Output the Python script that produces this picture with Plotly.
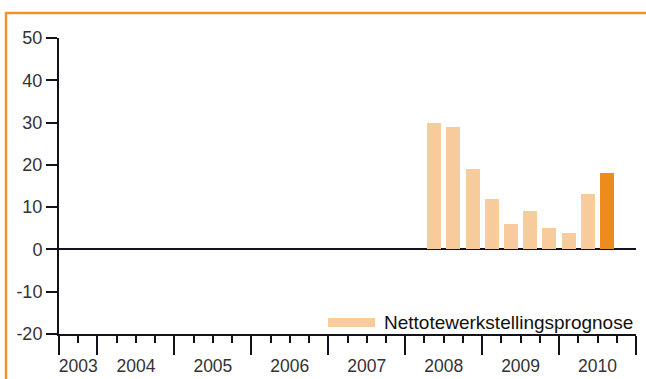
import plotly.graph_objects as go

# Quarterly net employment outlook (%), 2008 Q2 - 2010 Q3
quarters = ["2008 Q2", "2008 Q3", "2008 Q4", "2009 Q1", "2009 Q2",
            "2009 Q3", "2009 Q4", "2010 Q1", "2010 Q2", "2010 Q3"]
values = [30, 29, 19, 12, 6, 9, 5, 4, 13, 18]

# Axis spans 2003 Q3 through 2010 Q4
years = [2003, 2004, 2005, 2006, 2007, 2008, 2009, 2010]
first_year, first_q = 2003, 3
last_year, last_q = 2010, 4
y_ticks = [-20, -10, 0, 10, 20, 30, 40, 50]
y_tick_text = ["-20", "-10", "0", "10", "20", "30", "40", "50"]
series_name = "Nettotewerkstellingsprognose"

LIGHT = "#F8CB9C"
DARK = "#EE8B1F"
FRAME = "#F0922A"
INK = "#12121E"
LABEL = "#333333"
FONT = "Liberation Sans"


def q_index(year, q):
    return (year - first_year) * 4 + (q - first_q)


n_quarters = q_index(last_year, last_q) + 1

xs = []
for label in quarters:
    y_s, q_s = label.split(" Q")
    xs.append(q_index(int(y_s), int(q_s)) + 0.5)

colors = [LIGHT] * (len(values) - 1) + [DARK]

# Year boundaries (major ticks) and year label centres
bounds = [0] + [q_index(y, 1) for y in years[1:]] + [n_quarters]
centers = [(bounds[i] + bounds[i + 1]) / 2 for i in range(len(years))]

fig = go.Figure()
fig.add_trace(go.Bar(x=xs, y=values, marker=dict(color=colors, line=dict(width=0)),
                     width=0.73, showlegend=False, hoverinfo="skip"))
# invisible helper trace so the year-label axis is rendered
fig.add_trace(go.Scatter(x=[centers[0]], y=[0], xaxis="x2", mode="markers",
                         marker=dict(opacity=0), showlegend=False, hoverinfo="skip"))

fig.update_layout(
    width=646, height=379,
    margin=dict(l=59, r=10, t=38, b=45, autoexpand=False),
    paper_bgcolor="white", plot_bgcolor="white",
    font=dict(family=FONT, size=18, color=LABEL),
    bargap=0,
    xaxis=dict(
        range=[0, n_quarters], showgrid=False, zeroline=False, automargin=False,
        showline=True, linecolor=INK, linewidth=2,
        tickmode="array", tickvals=bounds, showticklabels=False,
        ticks="outside", ticklen=19, tickwidth=2, tickcolor=INK,
        minor=dict(tickmode="linear", tick0=0, dtick=1, ticks="outside",
                   ticklen=7, tickwidth=2, tickcolor=INK, showgrid=False),
    ),
    xaxis2=dict(
        overlaying="x", anchor="y", side="bottom", range=[0, n_quarters],
        showgrid=False, zeroline=False, showline=False, automargin=False,
        tickmode="array", tickvals=centers, ticktext=[str(y) for y in years],
        ticks="outside", ticklen=16, tickcolor="rgba(0,0,0,0)",
        tickfont=dict(family=FONT, size=17.5, color=LABEL),
    ),
    yaxis=dict(
        range=[-20, 50], showgrid=False, automargin=False,
        zeroline=True, zerolinecolor=INK, zerolinewidth=2,
        showline=True, linecolor=INK, linewidth=2,
        tickmode="array", tickvals=y_ticks, ticktext=y_tick_text,
        ticks="outside", ticklen=11, tickwidth=2, tickcolor=INK,
        tickfont=dict(family=FONT, size=18, color=LABEL),
    ),
)

# Orange frame along the top and left edges
plot_w = 646 - 59 - 10
plot_h = 379 - 38 - 45


def px_x(px):
    return (px - 59) / plot_w


def px_y(px):
    return (379 - 45 - px) / plot_h


fig.add_shape(type="line", xref="paper", yref="paper",
              x0=px_x(5), x1=px_x(646), y0=px_y(13), y1=px_y(13),
              line=dict(color=FRAME, width=2.5))
fig.add_shape(type="line", xref="paper", yref="paper",
              x0=px_x(6), x1=px_x(6), y0=px_y(12), y1=px_y(379),
              line=dict(color=FRAME, width=2.5))

# Legend: swatch + label
fig.add_shape(type="rect", xref="paper", yref="paper",
              x0=px_x(328), x1=px_x(375), y0=px_y(327), y1=px_y(318),
              fillcolor=LIGHT, line=dict(width=0))
fig.add_annotation(xref="paper", yref="paper", x=px_x(382), y=px_y(322.5),
                   text=series_name, showarrow=False, xanchor="left", yanchor="middle",
                   font=dict(family=FONT, size=19, color="#111111"))

fig.write_html("out.html")
